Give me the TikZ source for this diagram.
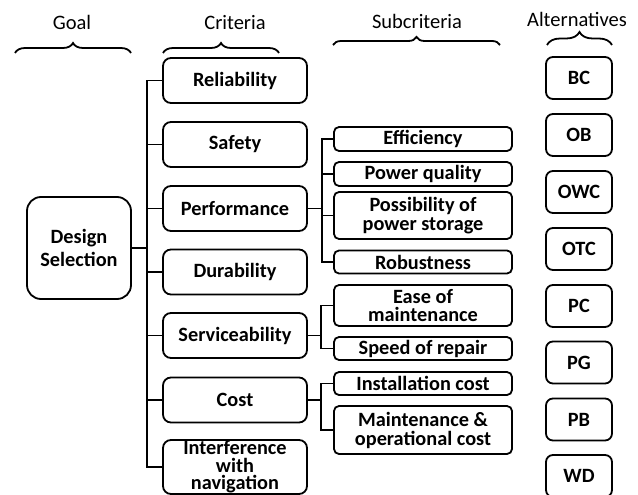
\documentclass[tikz,border=0pt]{standalone}
\usepackage{fontspec}
\setmainfont{Carlito}
\usetikzlibrary{decorations.pathreplacing}
\begin{document}
\begin{tikzpicture}[x=1pt,y=-1pt,
  lw/.style={line width=1.8pt},
  box/.style={draw, lw, inner sep=0pt, align=center, font=\bfseries\fontsize{20.3}{20.3}\selectfont},
  crit/.style={box, rounded corners=8pt, minimum width=144pt, minimum height=45pt},
  sub/.style={box, rounded corners=5pt, minimum width=178pt},
  alt/.style={box, rounded corners=7pt, minimum width=66pt, minimum height=42pt},
  head/.style={font=\fontsize{20.5}{20.5}\selectfont, inner sep=0pt, anchor=base},
  brc/.style={lw, decorate, decoration={brace, amplitude=#1}},
  conn/.style={lw}
]
\useasboundingbox (0,0) rectangle (638,495);

% headers
\node[head] (hgoal) at (72,30) {Goal};
\node[head] (hcrit) at (235,30) {Criteria};
\node[head] (hsub) at (417,29) {Subcriteria};
\node[head] (halt) at (577,26.5) {Alternatives};
\draw[brc=10pt] (15,53) -- (131,53);
\draw[brc=10pt] (163,53) -- (279,53);
\draw[brc=8pt] (333,45) -- (500,45);
\draw[brc=13pt] (547,45) -- (612,45);

% goal
\node[box, rounded corners=14pt, minimum width=104pt, minimum height=102pt, font=\bfseries\fontsize{20.3}{23}\selectfont] (goal) at (79,248) {Design\\Selection};

% criteria
\node[crit] (rel) at (235,80.5) {Reliability};
\node[crit] (saf) at (235,144.5) {Safety};
\node[crit] (perf) at (235,208.5) {Performance};
\node[crit] (dur) at (235,272) {Durability};
\node[crit] (serv) at (235,335.5) {Serviceability};
\node[crit] (cost) at (235,400) {Cost};
\node[crit, minimum height=54pt, font=\bfseries\fontsize{20.3}{17.6}\selectfont] (intf) at (235,467) {Interference\\with\\navigation};

% subcriteria
\node[sub, minimum height=24pt] (eff) at (423,139) {Efficiency};
\node[sub, minimum height=24pt] (pq) at (423,174) {Power quality};
\node[sub, minimum height=47pt, font=\bfseries\fontsize{20.3}{19.5}\selectfont] (pos) at (423,215.5) {Possibility of\\power storage};
\node[sub, minimum height=23pt] (rob) at (423,262) {Robustness};
\node[sub, minimum height=41pt, font=\bfseries\fontsize{20.3}{18.8}\selectfont] (ease) at (423,305.5) {Ease of\\maintenance};
\node[sub, minimum height=23pt] (spd) at (423,348.5) {Speed of repair};
\node[sub, minimum height=23pt] (inst) at (423,383.5) {Installation cost};
\node[sub, minimum height=48pt, font=\bfseries\fontsize{20.3}{19}\selectfont] (mnt) at (423,430) {Maintenance \&\\operational cost};

% alternatives
\node[alt] (bc) at (579,78) {BC};
\node[alt] (ob) at (579,135) {OB};
\node[alt] (owc) at (579,192) {OWC};
\node[alt] (otc) at (579,249) {OTC};
\node[alt] (pc) at (579,306) {PC};
\node[alt] (pg) at (579,362.5) {PG};
\node[alt] (pb) at (579,419.5) {PB};
\node[alt] (wd) at (579,476) {WD};

% goal -> criteria
\coordinate (trunk) at (147,248);
\draw[conn] (goal.east) -- (trunk);
\draw[conn] (rel.west) -| (trunk);
\draw[conn] (intf.west) -| (trunk);
\foreach \n in {saf,perf,dur,serv,cost}{\draw[conn] (\n.west) -- (trunk |- \n.west);}

% performance
\coordinate (pj) at (322,208.5);
\draw[conn] (perf.east) -- (pj);
\draw[conn] (eff.west) -| (pj);
\draw[conn] (rob.west) -| (pj);
\draw[conn] (pq.west) -- (pj |- pq.west);
\draw[conn] (pos.west) -- (pj |- pos.west);

% serviceability
\coordinate (sj) at (321,335.5);
\draw[conn] (serv.east) -- (sj);
\draw[conn] (ease.west) -| (sj);
\draw[conn] (spd.west) -| (sj);

% cost
\coordinate (cj) at (321,400);
\draw[conn] (cost.east) -- (cj);
\draw[conn] (inst.west) -| (cj);
\draw[conn] (mnt.west) -| (cj);
\end{tikzpicture}
\end{document}
